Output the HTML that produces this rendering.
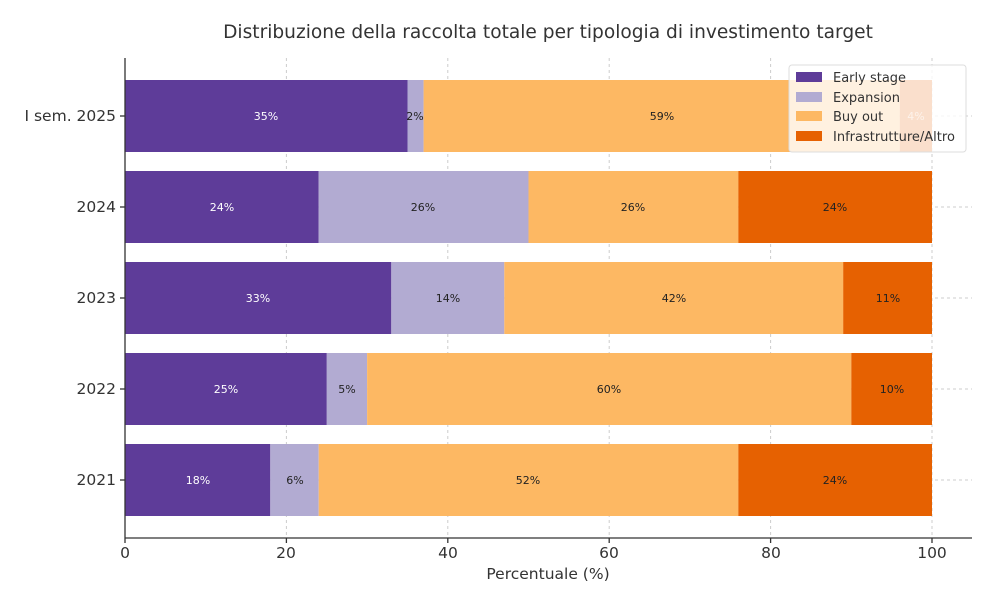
<!DOCTYPE html>
<html><head><meta charset="utf-8"><style>body{margin:0;background:#fff}svg{display:block;font-family:"DejaVu Sans","Liberation Sans",sans-serif}</style></head><body>
<svg width="1004" height="616" viewBox="0 0 1004 616">
<rect width="1004" height="616" fill="#fff"/>
<text x="548" y="38" text-anchor="middle" font-size="18.6" fill="#333">Distribuzione della raccolta totale per tipologia di investimento target</text>
<g stroke="#ccc" stroke-dasharray="3,3" stroke-width="1">
<line x1="286.4" y1="58" x2="286.4" y2="538"/><line x1="447.8" y1="58" x2="447.8" y2="538"/><line x1="609.2" y1="58" x2="609.2" y2="538"/><line x1="770.6" y1="58" x2="770.6" y2="538"/><line x1="932" y1="58" x2="932" y2="538"/>
<line x1="125" y1="116" x2="972" y2="116"/><line x1="125" y1="207" x2="972" y2="207"/><line x1="125" y1="298" x2="972" y2="298"/><line x1="125" y1="389" x2="972" y2="389"/><line x1="125" y1="480" x2="972" y2="480"/>
</g>
<g id="bars" font-size="11" text-anchor="middle">
<rect x="125" y="80" width="282.5" height="72" fill="#5e3c99"/><rect x="407.5" y="80" width="16.1" height="72" fill="#b2abd2"/><rect x="423.6" y="80" width="476.1" height="72" fill="#fdb863"/><rect x="899.7" y="80" width="32.3" height="72" fill="#e66101"/>
<text x="266" y="120" fill="#fff">35%</text><text x="415" y="120" fill="#222">2%</text><text x="662" y="120" fill="#222">59%</text>
<rect x="125" y="171" width="193.7" height="72" fill="#5e3c99"/><rect x="318.7" y="171" width="209.8" height="72" fill="#b2abd2"/><rect x="528.5" y="171" width="209.8" height="72" fill="#fdb863"/><rect x="738.3" y="171" width="193.7" height="72" fill="#e66101"/>
<text x="222" y="211" fill="#fff">24%</text><text x="423" y="211" fill="#222">26%</text><text x="633" y="211" fill="#222">26%</text><text x="835" y="211" fill="#222">24%</text>
<rect x="125" y="262" width="266.3" height="72" fill="#5e3c99"/><rect x="391.3" y="262" width="113" height="72" fill="#b2abd2"/><rect x="504.3" y="262" width="339" height="72" fill="#fdb863"/><rect x="843.2" y="262" width="88.8" height="72" fill="#e66101"/>
<text x="258" y="302" fill="#fff">33%</text><text x="448" y="302" fill="#222">14%</text><text x="674" y="302" fill="#222">42%</text><text x="888" y="302" fill="#222">11%</text>
<rect x="125" y="353" width="201.8" height="72" fill="#5e3c99"/><rect x="326.8" y="353" width="40.3" height="72" fill="#b2abd2"/><rect x="367.1" y="353" width="484.2" height="72" fill="#fdb863"/><rect x="851.3" y="353" width="80.7" height="72" fill="#e66101"/>
<text x="226" y="393" fill="#fff">25%</text><text x="347" y="393" fill="#222">5%</text><text x="609" y="393" fill="#222">60%</text><text x="892" y="393" fill="#222">10%</text>
<rect x="125" y="444" width="145.3" height="72" fill="#5e3c99"/><rect x="270.3" y="444" width="48.4" height="72" fill="#b2abd2"/><rect x="318.7" y="444" width="419.6" height="72" fill="#fdb863"/><rect x="738.3" y="444" width="193.7" height="72" fill="#e66101"/>
<text x="198" y="484" fill="#fff">18%</text><text x="295" y="484" fill="#222">6%</text><text x="528" y="484" fill="#222">52%</text><text x="835" y="484" fill="#222">24%</text>
</g>
<text x="916" y="120" font-size="11" text-anchor="middle" fill="#fff" opacity="0.6">4%</text>
<g>
<rect x="789" y="65" width="177" height="87" rx="3" fill="#fff" fill-opacity="0.8" stroke="#ddd"/>
<rect x="796" y="72" width="26" height="10" fill="#5e3c99"/><rect x="796" y="92" width="26" height="10" fill="#b2abd2"/><rect x="796" y="111" width="26" height="10" fill="#fdb863"/><rect x="796" y="131" width="26" height="10" fill="#e66101"/>
<g font-size="13" fill="#333"><text x="833" y="82">Early stage</text><text x="833" y="102">Expansion</text><text x="833" y="121">Buy out</text><text x="833" y="141">Infrastrutture/Altro</text></g>
</g>
<g stroke="#333" stroke-width="1.3"><line x1="125" y1="58" x2="125" y2="538"/><line x1="125" y1="538" x2="972" y2="538"/>
<line x1="125" y1="538" x2="125" y2="543"/><line x1="286.4" y1="538" x2="286.4" y2="543"/><line x1="447.8" y1="538" x2="447.8" y2="543"/><line x1="609.2" y1="538" x2="609.2" y2="543"/><line x1="770.6" y1="538" x2="770.6" y2="543"/><line x1="932" y1="538" x2="932" y2="543"/>
<line x1="120" y1="116" x2="125" y2="116"/><line x1="120" y1="207" x2="125" y2="207"/><line x1="120" y1="298" x2="125" y2="298"/><line x1="120" y1="389" x2="125" y2="389"/><line x1="120" y1="480" x2="125" y2="480"/></g>
<g font-size="15.5" fill="#333" text-anchor="middle"><text x="125" y="558">0</text><text x="286" y="558">20</text><text x="448" y="558">40</text><text x="609" y="558">60</text><text x="771" y="558">80</text><text x="932" y="558">100</text></g>
<g font-size="15.5" fill="#333" text-anchor="end"><text x="116" y="121">I sem. 2025</text><text x="116" y="212">2024</text><text x="116" y="303">2023</text><text x="116" y="394">2022</text><text x="116" y="485">2021</text></g>
<text x="548" y="579" font-size="15.5" text-anchor="middle" fill="#333">Percentuale (%)</text>
</svg>
</body></html>
